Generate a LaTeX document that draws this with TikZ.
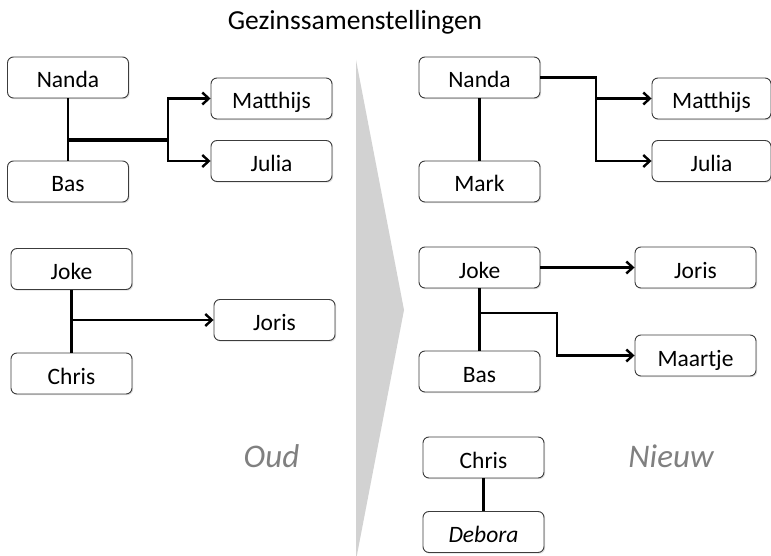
\documentclass[tikz,border=0pt]{standalone}
\usepackage{fontspec}
\setmainfont{Carlito}
\usetikzlibrary{arrows.meta,shadows}
\definecolor{arrowgray}{RGB}{210,210,210}
\definecolor{boxline}{RGB}{60,60,60}
\definecolor{labelgray}{RGB}{128,128,128}
\begin{document}
\begin{tikzpicture}[x=1pt,y=-1pt,
  person/.style={draw=boxline, line width=0.9pt, rounded corners=6pt, fill=white,
    minimum width=121pt, minimum height=41pt, inner sep=0pt,
    text height=21pt, text depth=0pt,
    font=\fontsize{23.5}{28}\selectfont,
    drop shadow={opacity=0.25, shadow xshift=1.2pt, shadow yshift=-1.2pt}},
  link/.style={line width=2.4pt, black},
  thickl/.style={line width=4pt, black},
  arr/.style={link, -{Straight Barb[length=6.5pt,width=12pt,line width=2.4pt]}},
  era/.style={font=\fontsize{33}{38}\selectfont\itshape, text=labelgray}]
\useasboundingbox (0,0) rectangle (771,556);
\fill[white] (0,0) rectangle (771,556);
% big gray arrow
\fill[arrowgray] (356,60) -- (404,310) -- (356,560) -- cycle;
% title
\node[font=\fontsize{27.5}{32}\selectfont] (title) at (355,22) {Gezinssamenstellingen};
% left (Oud)
\node[person] (nL) at (68,77.5) {Nanda};
\node[person] (bL) at (68,181.5) {Bas};
\node[person] (mL) at (271.5,98.5) {Matthijs};
\node[person] (jL) at (271.5,161) {Julia};
\node[person] (joL) at (71.5,269) {Joke};
\node[person] (chL) at (71.5,373.5) {Chris};
\node[person] (jorL) at (274.5,320) {Joris};
\node[era] (oud) at (271.5,456) {Oud};
% right (Nieuw)
\node[person] (nR) at (479.5,77.5) {Nanda};
\node[person] (mkR) at (479.5,181.5) {Mark};
\node[person, minimum width=119pt] (mR) at (711.5,98.5) {Matthijs};
\node[person, minimum width=119pt] (jR) at (711.5,161) {Julia};
\node[person] (joR) at (479.5,267.5) {Joke};
\node[person] (jorR) at (695.5,267.5) {Joris};
\node[person] (bR) at (479.5,371.5) {Bas};
\node[person] (maR) at (695.5,355.5) {Maartje};
\node[person] (chR) at (483.5,457.5) {Chris};
\node[person] (dR) at (483.5,532) {\itshape Debora};
\node[era] (nieuw) at (671,456) {Nieuw};
% connectors left
\draw[link] (nL.south) -- (bL.north);
\coordinate (j1) at (68,140);
\coordinate (f1) at (168,140);
\draw[thickl] (j1) -- (f1);
\draw[arr] (f1) |- (mL.west);
\draw[arr] (f1) |- (jL.west);
\draw[link] (joL.south) -- (chL.north);
\coordinate (j2) at (71.5,320);
\draw[arr] (j2) -- (jorL.west);
% connectors right
\draw[link] (nR.south) -- (mkR.north);
\coordinate (f2) at (596,77.5);
\draw[arr] (nR.east) -- (f2) |- (jR.west);
\draw[arr] (f2) |- (mR.west);
\draw[arr] (joR.east) -- (jorR.west);
\draw[link] (joR.south) -- (bR.north);
\coordinate (j3) at (479.5,313);
\coordinate (f3) at (557,313);
\draw[arr] (j3) -- (f3) |- (maR.west);
\draw[link] (chR.south) -- (dR.north);
\end{tikzpicture}
\end{document}
